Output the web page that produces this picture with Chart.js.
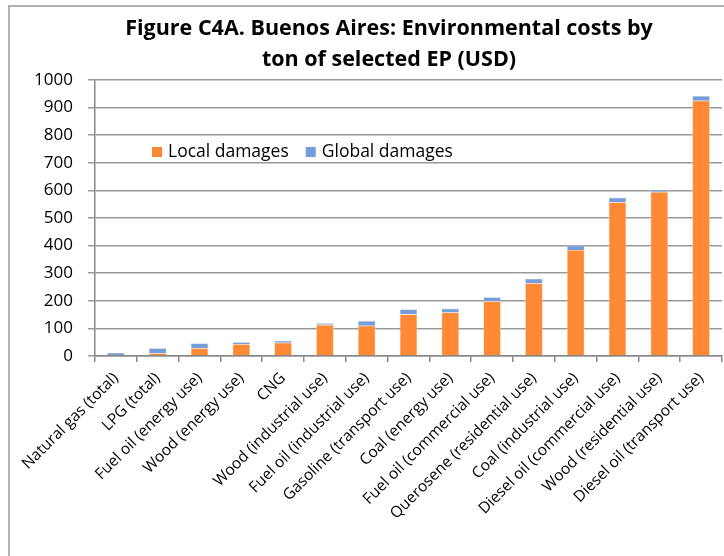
<!DOCTYPE html>
<html>
<head>
<meta charset="utf-8">
<script src="https://cdn.jsdelivr.net/npm/chart.js@4/dist/chart.umd.min.js"></script>
<style>
  html, body { margin: 0; padding: 0; background: #fff; }
  #wrap { width: 724px; height: 556px; position: relative; }
</style>
</head>
<body>
<div id="wrap"><canvas id="c4a"></canvas></div>
<script>
// categories and values (USD per ton)
const categories = [
  'Natural gas (total)', 'LPG (total)', 'Fuel oil (energy use)', 'Wood (energy use)', 'CNG',
  'Wood (industrial use)', 'Fuel oil (industrial use)', 'Gasoline (transport use)',
  'Coal (energy use)', 'Fuel oil (commercial use)', 'Querosene (residential use)',
  'Coal (industrial use)', 'Diesel oil (commercial use)', 'Wood (residential use)',
  'Diesel oil (transport use)'
];
const localDamages  = [4, 10, 28, 43, 48, 113, 110, 151, 158, 198, 264, 384, 557, 595, 925];
const globalDamages = [8, 18, 18, 7, 8, 6, 17, 18, 14, 15, 16, 16, 17, 7, 17];
const yTicks = [0, 100, 200, 300, 400, 500, 600, 700, 800, 900, 1000];
const titleLines = ['Figure C4A. Buenos Aires: Environmental costs by', 'ton of selected EP (USD)'];

const FONT = "'Open Sans', 'Noto Sans', sans-serif";

// title is centred a bit right of the canvas middle in the original
const titleText = {
  id: 'titleText',
  afterDraw(chart) {
    const ctx = chart.ctx;
    ctx.save();
    ctx.font = 'bold 21.5px ' + FONT;
    ctx.fillStyle = '#000';
    ctx.textAlign = 'center';
    ctx.textBaseline = 'middle';
    titleLines.forEach((t, i) => ctx.fillText(t, 389, 29 + i * 31));
    ctx.restore();
  }
};

// legend sits inside the plot, like the original
const innerLegend = {
  id: 'innerLegend',
  afterDatasetsDraw(chart) {
    const ctx = chart.ctx;
    ctx.save();
    ctx.font = '17.5px ' + FONT;
    ctx.textBaseline = 'middle';
    let x = 152;
    const y = 152;
    chart.data.datasets.forEach(ds => {
      ctx.fillStyle = ds.backgroundColor;
      ctx.fillRect(x, y - 5, 10, 10);
      ctx.fillStyle = '#000';
      ctx.fillText(ds.label, x + 16, y);
      x += 16 + ctx.measureText(ds.label).width + 17;
    });
    ctx.restore();
  }
};

// gray frame of the original chart object
const frame = {
  id: 'frame',
  afterDraw(chart) {
    const ctx = chart.ctx;
    ctx.save();
    ctx.strokeStyle = '#999';
    ctx.lineWidth = 1.5;
    ctx.beginPath();
    ctx.moveTo(9, 556);
    ctx.lineTo(9, 6);
    ctx.lineTo(724, 6);
    ctx.stroke();
    ctx.restore();
  }
};

new Chart(document.getElementById('c4a'), {
  type: 'bar',
  data: {
    labels: categories,
    datasets: [
      { label: 'Local damages', data: localDamages, backgroundColor: '#ff8935', borderColor: '#ffd8bd', borderWidth: 0.6, barPercentage: 0.42, categoryPercentage: 1 },
      { label: 'Global damages', data: globalDamages, backgroundColor: '#779cdc', borderColor: '#c9d7f0', borderWidth: 0.6, barPercentage: 0.42, categoryPercentage: 1 }
    ]
  },
  options: {
    responsive: true,
    maintainAspectRatio: false,
    animation: false,
    layout: { padding: { left: 0, right: 2, top: 80, bottom: 0 } },
    plugins: {
      legend: { display: false },
      tooltip: { enabled: false },
      title: { display: false }
    },
    scales: {
      x: {
        stacked: true,
        grid: { offset: true, drawOnChartArea: false, drawTicks: true, tickLength: 6, color: '#888', lineWidth: 1.5 },
        border: { color: '#888', width: 1.5 },
        ticks: { color: '#000', font: { family: FONT, size: 15.5 }, minRotation: 45, maxRotation: 45, autoSkip: false, padding: 7 },
        afterFit(scale) { scale.height = 200; }
      },
      y: {
        stacked: true,
        min: 0,
        max: 1000,
        afterBuildTicks(scale) { scale.ticks = yTicks.map(v => ({ value: v })); },
        grid: { color: '#999', lineWidth: 1.5, tickLength: 7 },
        border: { color: '#888', width: 1.5 },
        ticks: { color: '#000', font: { family: FONT, size: 17 }, padding: 15, callback: v => String(v) },
        afterFit(scale) { scale.width = 95; }
      }
    }
  },
  plugins: [innerLegend, frame, titleText]
});
</script>
</body>
</html>
